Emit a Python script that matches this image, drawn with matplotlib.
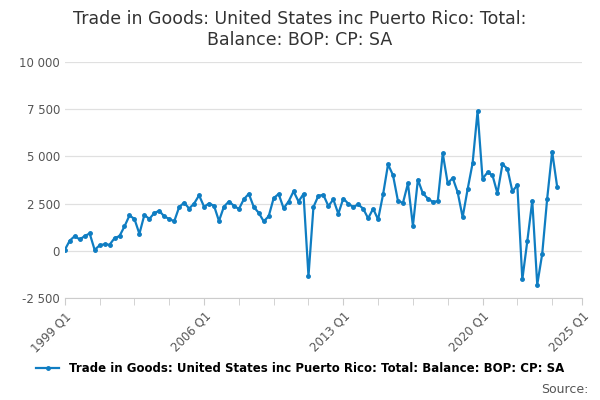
import matplotlib
matplotlib.use("Agg")
import matplotlib.pyplot as plt
from matplotlib.ticker import FuncFormatter

# quarterly values, 1999 Q1 .. 2023 Q4
values = [
    50, 540, 780, 600, 780, 920, 50, 290, 350, 320,
    670, 780, 1290, 1870, 1690, 900, 1900, 1690, 2000, 2120,
    1820, 1690, 1560, 2320, 2550, 2240, 2500, 2940, 2340, 2500,
    2390, 1580, 2340, 2610, 2390, 2210, 2730, 3020, 2320, 2010,
    1560, 1830, 2790, 3010, 2250, 2610, 3150, 2610, 3010, -1340,
    2320, 2920, 2960, 2370, 2720, 1960, 2770, 2500, 2320, 2460,
    2230, 1720, 2230, 1660, 2990, 4580, 4000, 2630, 2540, 3570,
    1320, 3770, 3040, 2770, 2590, 2630, 5160, 3570, 3860, 3100,
    1780, 3260, 4640, 7390, 3820, 4150, 4000, 3040, 4580, 4350,
    3150, 3480, -1520, 510, 2650, -1790, -160, 2770, 5250, 3400,
]
label_pos = [0, 28, 56, 84, 104]
label_txt = ["1999 Q1", "2006 Q1", "2013 Q1", "2020 Q1", "2025 Q1"]
yticks = [-2500, 0, 2500, 5000, 7500, 10000]
name = "Trade in Goods: United States inc Puerto Rico: Total: Balance: BOP: CP: SA"

color = "#0f7dc2"
fig = plt.figure(figsize=(6, 4), dpi=100)
ax = fig.add_axes([0.108, 0.255, 0.862, 0.59])
ax.plot(range(len(values)), values, color=color, lw=1.6, marker="o", ms=2.5, label=name)

ax.set_xlim(0, 104)
ax.set_ylim(-2500, 10000)
ax.set_yticks(yticks)
ax.yaxis.set_major_formatter(FuncFormatter(lambda v, p: f"{int(v):,}".replace(",", " ")))
ax.set_xticks(label_pos)
ax.set_xticklabels(label_txt, rotation=45, ha="right", rotation_mode="anchor")
ax.set_xticks(list(range(0, 104, 7)), minor=True)
ax.tick_params(axis="x", which="both", length=5, color="#cccccc", labelsize=8.5, labelcolor="#555555")
ax.tick_params(axis="y", length=0, labelsize=8.5, labelcolor="#555555")
ax.grid(axis="y", color="#e0e0e0", lw=0.9)
ax.set_axisbelow(True)
for s in ("left", "right", "top"):
    ax.spines[s].set_visible(False)
ax.spines["bottom"].set_color("#cccccc")

fig.suptitle("Trade in Goods: United States inc Puerto Rico: Total:\nBalance: BOP: CP: SA",
             y=0.975, fontsize=12.5, color="#333333")
fig.legend(loc="lower center", bbox_to_anchor=(0.5, 0.035), frameon=False,
           handlelength=2, prop={"weight": "bold", "size": 8.5})
fig.text(0.98, 0.01, "Source:", ha="right", va="bottom", fontsize=9, color="#555555")
fig.savefig("out.png")
